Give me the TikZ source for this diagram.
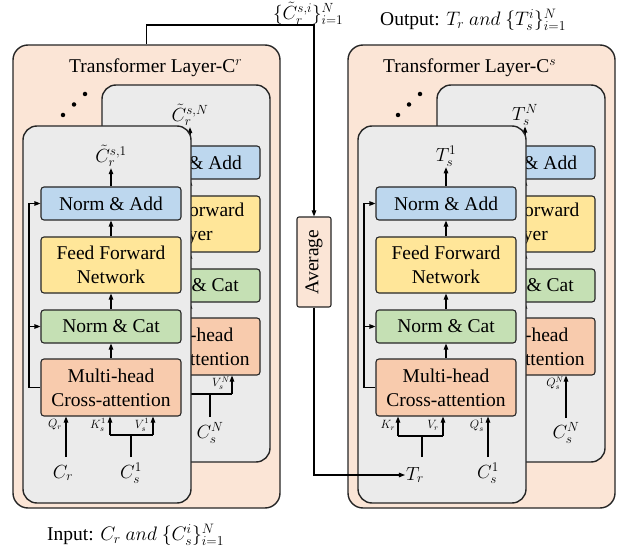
\RequirePackage{fix-cm}
\documentclass[tikz,border=0pt]{standalone}
\usepackage{fontspec}
\setmainfont{Liberation Serif}
\usepackage{graphicx}
\usetikzlibrary{arrows.meta}
\definecolor{peach}{HTML}{FBE5D6}
\definecolor{panelgray}{HTML}{EBEBEB}
\definecolor{addblue}{HTML}{BDD7EE}
\definecolor{ffyellow}{HTML}{FFE699}
\definecolor{catgreen}{HTML}{C5E0B4}
\definecolor{attorange}{HTML}{F8CBAD}
\tikzset{
 outerpanel/.style={draw=black!85,line width=1.4pt,fill=peach,rounded corners=15pt,inner sep=0pt,minimum width=267pt,minimum height=463pt},
 panel/.style={draw=black!85,line width=1.4pt,fill=panelgray,rounded corners=14pt,inner sep=0pt,minimum width=168pt,minimum height=377pt},
 blk/.style={draw=black!85,line width=1.1pt,rounded corners=3pt,inner sep=0pt,minimum width=140pt,align=center,font=\fontsize{19.5}{24}\selectfont},
 arr/.style={-{Triangle[length=6pt,width=4.5pt]},line width=1.1pt},
 ln/.style={line width=1.1pt},
 mlab/.style={inner sep=1pt,font=\fontsize{19}{21}\selectfont},
 slab/.style={inner sep=0pt,font=\fontsize{12}{13}\selectfont},
 ttl/.style={inner sep=0pt,anchor=west,font=\fontsize{19.5}{22}\selectfont},
 blackdot/.style={fill=black,circle,inner sep=0pt,minimum size=4.5pt},
}
\newcommand\tstack[3]{%
 \node[panel] (#1pan) at (107,314.5) {};
 \node[blk,fill=addblue,minimum height=33pt] (#1add) at (111,203.5) {Norm \& Add};
 \node[blk,fill=ffyellow,minimum height=56pt] (#1ffn) at (111,265) {Feed Forward\\#2};
 \node[blk,fill=catgreen,minimum height=33pt] (#1cat) at (111,326.5) {Norm \& Cat};
 \node[blk,fill=attorange,minimum height=57pt] (#1att) at (111,387.5) {Multi-head\\Cross-attention};
 \node[mlab] (#1out) at (111,156) {#3};
 \draw[arr] (#1att) -- (#1cat);
 \draw[arr] (#1cat) -- (#1ffn);
 \draw[arr] (#1ffn) -- (#1add);
 \draw[arr] (#1add) -- (#1out);
 \coordinate (#1res) at (29,387.5);
 \draw[ln] (#1att.west) -- (#1res);
 \draw[arr] (#1res) |- (#1add.west);
 \draw[arr] (#1res) |- (#1cat.west);
}
\begin{document}
\begin{tikzpicture}[x=1pt,y=-1pt]
\useasboundingbox (0,0) rectangle (624,556);
% ---------------- left: Transformer Layer-C^r
\node[outerpanel] (louter) at (146.5,276.5) {};
\node[ttl] (ltitle) at (69,68) {Transformer Layer-C$^{r}$};
\node[blackdot] (ld1) at (63,115) {};
\node[blackdot] (ld2) at (74,104.5) {};
\node[blackdot] (ld3) at (85,94) {};
\begin{scope}[shift={(79,-41)}]
 \tstack{lb}{Layer}{$\tilde{C}_r^{s,N}$}
 \node[mlab] (lbcs) at (131,474) {$C_s^N$};
 \coordinate (lbstem) at (131,458);
 \coordinate (lbk) at (110,435);
 \coordinate (lbv) at (153,435);
 \draw[ln] (lbstem) -- (lbstem |- lbk);
 \draw[ln] (lbk) -- (lbv);
 \draw[arr] (lbv) -- (lbv |- lbatt.south);
 \node[slab] (lbvl) at (142,424) {$V_s^N$};
\end{scope}
\tstack{lf}{Network}{$\tilde{C}_r^{s,1}$}
\node[mlab] (lfcr) at (63,473) {$C_r$};
\node[mlab] (lfcs) at (131,473) {$C_s^1$};
\coordinate (lfq) at (66,457);
\draw[arr] (lfq) -- (lfq |- lfatt.south);
\coordinate (lfstem) at (131,457);
\coordinate (lfk) at (110,435);
\coordinate (lfv) at (153,435);
\draw[ln] (lfstem) -- (lfstem |- lfk);
\draw[ln] (lfk) -- (lfv);
\draw[arr] (lfk) -- (lfk |- lfatt.south);
\draw[arr] (lfv) -- (lfv |- lfatt.south);
\node[slab] (lfql) at (55,425) {$Q_r$};
\node[slab] (lfkl) at (98,425) {$K_s^1$};
\node[slab] (lfvl) at (142,425) {$V_s^1$};
% ---------------- right: Transformer Layer-C^s
\begin{scope}[shift={(335,0)}]
 \node[outerpanel] (router) at (146.5,276.5) {};
 \node[blackdot] (rd1) at (63,115) {};
 \node[blackdot] (rd2) at (74,104.5) {};
 \node[blackdot] (rd3) at (85,94) {};
 \begin{scope}[shift={(79,-41)}]
  \tstack{rb}{Layer}{$T_s^N$}
  \node[mlab] (rbcs) at (152,474) {$C_s^N$};
  \coordinate (rbq) at (152,459);
  \draw[arr] (rbq) -- (rbq |- rbatt.south);
  \node[slab] (rbql) at (141,424) {$Q_s^N$};
 \end{scope}
 \tstack{rf}{Network}{$T_s^1$}
 \node[mlab] (rftr) at (80,475) {$T_r$};
 \node[mlab] (rfcs) at (153,473) {$C_s^1$};
 \coordinate (rfstem) at (87,457);
 \coordinate (rfk) at (63,436);
 \coordinate (rfv) at (108,436);
 \coordinate (rfq) at (153,457);
 \draw[ln] (rfstem) -- (rfstem |- rfk);
 \draw[ln] (rfk) -- (rfv);
 \draw[arr] (rfk) -- (rfk |- rfatt.south);
 \draw[arr] (rfv) -- (rfv |- rfatt.south);
 \draw[arr] (rfq) -- (rfq |- rfatt.south);
 \node[slab] (rfkl) at (53,425) {$K_r$};
 \node[slab] (rfvl) at (98,425) {$V_r$};
 \node[slab] (rfql) at (142,425) {$Q_s^1$};
\end{scope}
\node[ttl] (rtitle) at (383,68) {Transformer Layer-C$^{s}$};
% ---------------- average and connectors
\node[draw=black!85,line width=1.1pt,fill=peach,rounded corners=2pt,inner sep=0pt,minimum width=34pt,minimum height=90pt] (avg) at (314,262) {\rotatebox{90}{\fontsize{19.5}{22}\selectfont Average}};
\coordinate (cturn) at (314,25);
\draw[arr] (louter.north) |- (cturn) -- (avg.north);
\node[mlab,anchor=west] (setlbl) at (272,13.5) {$\{\tilde{C}_r^{s,i}\}_{i=1}^N$};
\draw[arr] (avg.south) |- (rftr.west);
\node[ttl] (outlbl) at (380,20) {Output: $T_r\ and\ \{T_s^i\}_{i=1}^N$};
\node[ttl] (inlbl) at (47,535) {Input: $C_r\ and\ \{C_s^i\}_{i=1}^N$};
\end{tikzpicture}
\end{document}
